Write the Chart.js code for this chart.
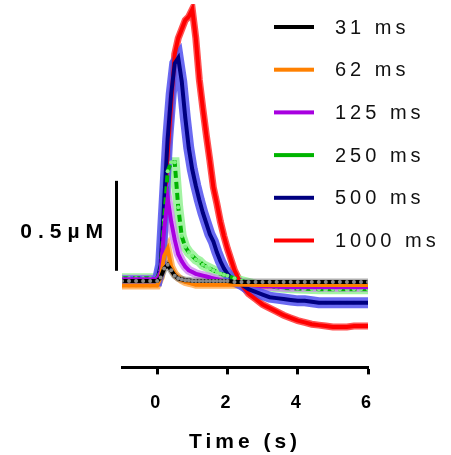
<!DOCTYPE html>
<html>
<head>
<meta charset="utf-8">
<script src="https://cdn.jsdelivr.net/npm/chart.js@4"></script>
<style>
  html, body { margin: 0; padding: 0; background: #fff; }
  .chart-box { width: 451px; height: 455px; position: relative; }
</style>
</head>
<body>
<div class="chart-box">
  <canvas id="transitorios"></canvas>
</div>
<script>
  // tiempo (s) y respuesta (µM, relativa a la basal)
  const times = [-1.0, -0.8, -0.6, -0.4, -0.2,
    0.0, 0.1, 0.2, 0.3, 0.4, 0.5, 0.6, 0.7, 0.8, 0.9, 1.0, 1.1, 1.2, 1.3, 1.4, 1.5, 1.6, 1.7, 1.8, 1.9, 2.0,
    2.2, 2.4, 2.6, 2.8, 3.0, 3.2, 3.4, 3.6, 3.8, 4.0, 4.2, 4.4, 4.6, 4.8, 5.0, 5.2, 5.4, 5.6, 5.8, 6.0];

  const labels = ["31 ms", "62 ms", "125 ms", "250 ms", "500 ms", "1000 ms"];

  const ms31 = [0.01, 0.01, 0.01, 0.01, 0.01,
    0.01, 0.03, 0.08, 0.10, 0.07, 0.04, 0.025, 0.02, 0.015, 0.015, 0.01, 0.01, 0.01, 0.01, 0.01, 0.01, 0.01, 0.01, 0.01, 0.01, 0.01,
    0.005, 0.005, 0.005, 0.005, 0.005, 0.005, 0.005, 0.005, 0.005, 0.005, 0.005, 0.005, 0.005, 0.005, 0.005, 0.005, 0.005, 0.005, 0.005, 0.005];
  const ms62 = [-0.015, -0.015, -0.015, -0.015, -0.015,
    -0.015, 0.03, 0.15, 0.19, 0.09, 0.05, 0.03, 0.015, 0.005, 0.0, -0.005, -0.01, -0.01, -0.01, -0.01, -0.01, -0.01, -0.01, -0.01, -0.01, -0.01,
    -0.01, -0.01, -0.01, -0.012, -0.012, -0.012, -0.012, -0.012, -0.012, -0.012, -0.012, -0.012, -0.012, -0.012, -0.012, -0.012, -0.012, -0.012, -0.012, -0.012];
  const ms125 = [0.02, 0.02, 0.02, 0.02, 0.02,
    0.02, 0.06, 0.30, 0.47, 0.34, 0.24, 0.16, 0.12, 0.09, 0.07, 0.06, 0.05, 0.045, 0.04, 0.035, 0.03, 0.025, 0.02, 0.015, 0.01, 0.01,
    0.0, -0.005, -0.01, -0.015, -0.02, -0.02, -0.022, -0.024, -0.025, -0.025, -0.025, -0.025, -0.025, -0.025, -0.025, -0.025, -0.025, -0.025, -0.025, -0.025];
  const ms250 = [0.025, 0.025, 0.025, 0.025, 0.025,
    0.025, 0.07, 0.35, 0.62, 0.67, 0.67, 0.42, 0.26, 0.20, 0.17, 0.15, 0.13, 0.12, 0.10, 0.09, 0.08, 0.07, 0.06, 0.05, 0.045, 0.04,
    0.025, 0.01, 0.0, -0.01, -0.015, -0.02, -0.025, -0.028, -0.03, -0.032, -0.033, -0.034, -0.035, -0.035, -0.035, -0.035, -0.035, -0.035, -0.035, -0.035];
  const ms500 = [0.01, 0.01, 0.01, 0.01, 0.01,
    0.01, 0.10, 0.45, 0.80, 1.05, 1.22, 1.25, 1.12, 0.92, 0.75, 0.63, 0.54, 0.46, 0.39, 0.33, 0.27, 0.23, 0.17, 0.12, 0.08, 0.05,
    0.01, -0.01, -0.035, -0.05, -0.065, -0.08, -0.085, -0.09, -0.095, -0.10, -0.10, -0.105, -0.11, -0.11, -0.11, -0.11, -0.11, -0.11, -0.11, -0.11];
  const ms1000 = [0.01, 0.01, 0.01, 0.01, 0.01,
    0.01, 0.07, 0.36, 0.72, 1.0, 1.27, 1.36, 1.41, 1.46, 1.48, 1.52, 1.36, 1.13, 0.97, 0.82, 0.68, 0.53, 0.44, 0.34, 0.26, 0.19,
    0.07, -0.01, -0.06, -0.09, -0.12, -0.14, -0.16, -0.18, -0.195, -0.21, -0.22, -0.23, -0.235, -0.24, -0.245, -0.245, -0.245, -0.24, -0.24, -0.24];

  const xTicks = [0, 2, 4, 6];

  const series = [ms31, ms62, ms125, ms250, ms500, ms1000];
  const lineColors = ["#000000", "#ff8000", "#a800e0", "#00b400", "#000080", "#ff0000"];
  const bandColors = ["rgba(110,110,110,0.55)", "rgba(255,160,60,0.75)", "rgba(205,130,240,0.75)",
    "rgba(140,240,140,0.8)", "rgba(80,80,240,0.85)", "rgba(255,50,50,0.85)"];
  const dotColors = ["#8a8a8a", "#ffa040", "#c070f0", "#80f080", "#5a5aff", "#ff6a6a"];
  const bandWidths = [7, 8, 9, 10, 11, 7];
  // orden de dibujo: número mayor va debajo
  const bandOrder = [15, 16, 17, 18, 19, 20];
  const lineOrder = [1, 2, 3, 4, 5, 6];

  const datasets = [];
  series.forEach((vals, i) => {
    datasets.push({
      label: "band" + i,
      data: times.map((t, k) => ({ x: t, y: vals[k] })),
      borderColor: bandColors[i],
      borderWidth: bandWidths[i],
      pointRadius: 2,
      pointBackgroundColor: dotColors[i],
      pointBorderWidth: 0,
      order: bandOrder[i],
    });
    datasets.push({
      label: labels[i],
      data: times.map((t, k) => ({ x: t, y: vals[k] })),
      borderColor: lineColors[i],
      borderWidth: 4,
      borderDash: i === 3 ? [7, 4] : [],
      pointRadius: i === 0 || i === 3 ? 2 : 0,
      pointBackgroundColor: dotColors[i],
      pointBorderWidth: 0,
      order: lineOrder[i],
    });
  });
  // la banda azul tapa la subida de la roja
  datasets.find((d) => d.label === "band4").order = 7;

  // barra de escala y leyenda dibujadas a mano
  const extras = {
    id: "extras",
    beforeDraw(chart) {
      chart.ctx.letterSpacing = "4px";
    },
    afterDraw(chart) {
      const ctx = chart.ctx;
      const y = chart.scales.y;
      ctx.save();
      ctx.fillStyle = "#000";
      ctx.fillRect(115, y.getPixelForValue(0.567), 3, y.getPixelForValue(0.067) - y.getPixelForValue(0.567));
      ctx.letterSpacing = "6px";
      ctx.font = "bold 21px 'Liberation Sans', Arial, sans-serif";
      ctx.textAlign = "right";
      ctx.textBaseline = "middle";
      ctx.fillText("0.5µM", 109, 232);

      ctx.letterSpacing = "4px";
      ctx.font = "20px 'Liberation Sans', Arial, sans-serif";
      ctx.textAlign = "left";
      labels.forEach((lab, i) => {
        const yy = 27 + i * 42.7;
        ctx.fillStyle = lineColors[i];
        ctx.fillRect(274, yy - 2, 40, 4);
        ctx.fillStyle = "#111";
        ctx.fillText(lab, 335, yy + 1);
      });
      ctx.restore();
    },
  };

  new Chart(document.getElementById("transitorios"), {
    type: "line",
    data: { datasets },
    plugins: [extras],
    options: {
      responsive: true,
      maintainAspectRatio: false,
      animation: false,
      layout: { padding: { left: 122, right: 83, top: 3, bottom: 2 } },
      plugins: { legend: { display: false }, tooltip: { enabled: false } },
      elements: { line: { tension: 0 } },
      scales: {
        x: {
          type: "linear",
          min: -1,
          max: 6,
          afterBuildTicks: (axis) => { axis.ticks = xTicks.map((v) => ({ value: v })); },
          grid: { drawOnChartArea: false, drawTicks: true, tickLength: 7, tickWidth: 3, color: "#000" },
          border: { display: true, width: 3, color: "#000" },
          ticks: { color: "#000", padding: 18, font: { family: "'Liberation Sans', Arial", size: 18, weight: "bold" } },
          title: {
            display: true,
            text: "Time (s)",
            color: "#000",
            padding: { top: 0, bottom: 0 },
            font: { family: "'Liberation Sans', Arial", size: 21, weight: "bold", lineHeight: 1.0 },
          },
        },
        y: {
          display: false,
          min: -0.47,
          max: 1.55,
        },
      },
    },
  });
</script>
</body>
</html>
